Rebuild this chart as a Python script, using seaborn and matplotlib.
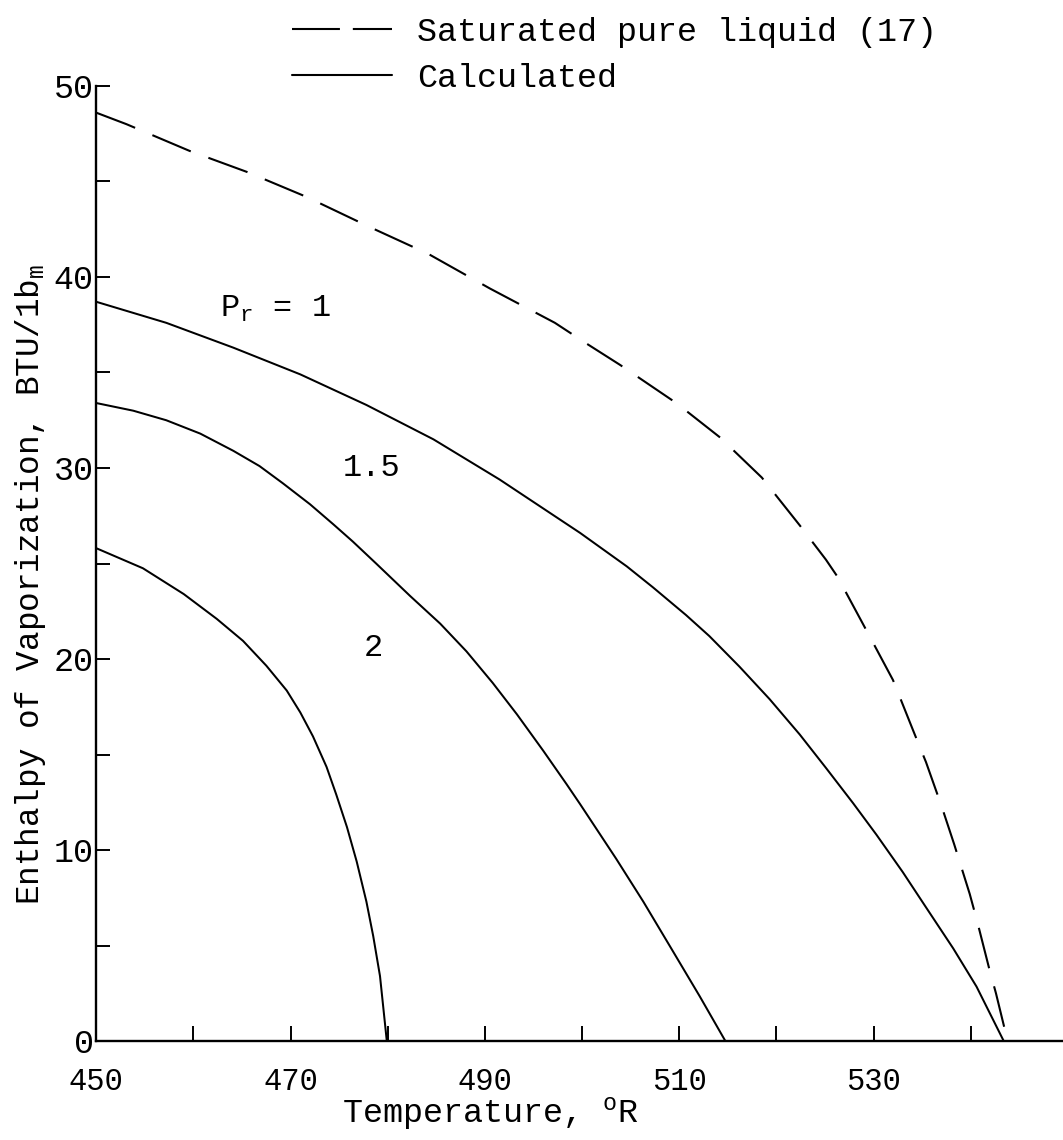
import matplotlib
matplotlib.use("Agg")
import matplotlib.pyplot as plt
from matplotlib.lines import Line2D
import seaborn as sns

# Saturated pure liquid, reference (17)
t_sat = [450.0, 453.1, 459.6, 465.5, 471.6, 478.2, 484.2, 490.5, 497.2, 500.5, 503.9,
         509.7, 514.2, 518.5, 522.4, 525.1, 526.3, 529.9, 532.0, 534.2, 535.4, 537.0,
         538.3, 539.9, 540.7, 541.9, 542.6, 543.8]
h_sat = [48.6, 48.0, 46.6, 45.5, 44.2, 42.6, 41.2, 39.4, 37.6, 36.5, 35.4,
         33.4, 31.6, 29.5, 27.0, 25.2, 24.3, 20.9, 18.9, 16.1, 14.6, 12.3,
         10.3, 7.7, 6.2, 3.8, 2.5, 0.0]

# Calculated, reduced pressure Pr = 1
t_pr1 = [450.0, 457.2, 464.1, 471.0, 477.8, 484.7, 491.5, 499.8, 504.6, 507.3,
         510.7, 513.1, 516.2, 519.3, 522.4, 525.1, 527.9, 530.3, 533.0, 535.4,
         538.2, 540.6, 543.4]
h_pr1 = [38.7, 37.6, 36.3, 34.9, 33.3, 31.5, 29.4, 26.6, 24.85, 23.75,
         22.3, 21.2, 19.6, 17.9, 16.05, 14.3, 12.45, 10.8, 8.85, 7.0,
         4.85, 2.85, 0.0]

# Calculated, Pr = 1.5
t_pr15 = [450.0, 453.8, 457.2, 460.7, 464.1, 466.8, 469.2, 472.0, 474.4, 476.4,
          478.8, 482.3, 485.4, 488.1, 490.8, 493.3, 496.0, 498.4, 499.8, 503.5,
          506.3, 509.0, 512.1, 514.75]
h_pr15 = [33.4, 33.0, 32.5, 31.8, 30.9, 30.1, 29.2, 28.1, 27.05, 26.15,
          25.0, 23.3, 21.85, 20.4, 18.75, 17.1, 15.2, 13.45, 12.4, 9.55,
          7.3, 5.0, 2.35, 0.0]

# Calculated, Pr = 2
t_pr2 = [450.0, 454.8, 459.0, 462.4, 465.1, 467.5, 469.6, 471.0, 472.3, 473.7,
         474.7, 475.8, 476.8, 477.8, 478.5, 479.2, 479.9]
h_pr2 = [25.8, 24.75, 23.4, 22.1, 20.95, 19.65, 18.35, 17.2, 15.95, 14.35,
         12.9, 11.2, 9.4, 7.3, 5.5, 3.4, 0.0]

x_ticks = [450, 460, 470, 480, 490, 500, 510, 520, 530, 540]
x_tick_labels = ["450", "", "470", "", "490", "", "510", "", "530", ""]
y_ticks = [0, 5, 10, 15, 20, 25, 30, 35, 40, 45, 50]
y_tick_labels = ["0", "", "10", "", "20", "", "30", "", "40", "", "50"]

sns.set_theme(style="white")
plt.rcParams["font.family"] = ["Liberation Mono", "DejaVu Sans Mono"]
plt.rcParams["mathtext.fontset"] = "custom"
plt.rcParams["mathtext.rm"] = "Liberation Mono"
plt.rcParams["mathtext.it"] = "Liberation Mono"
for key in ["text.color", "axes.labelcolor", "xtick.color", "ytick.color"]:
    plt.rcParams[key] = "black"

fig = plt.figure(figsize=(10.63, 11.40), dpi=100)
ax = fig.add_axes([0.0906, 0.0868, 0.9094, 0.8378])

sns.lineplot(x=t_sat, y=h_sat, ax=ax, color="black", lw=1.5, sort=False,
             estimator=None, linestyle=(0, (20, 9)))
for t, h in [(t_pr1, h_pr1), (t_pr15, h_pr15), (t_pr2, h_pr2)]:
    sns.lineplot(x=t, y=h, ax=ax, color="black", lw=1.45, sort=False, estimator=None)

ax.set_xlim(450, 549.5)
ax.set_ylim(0, 50)
ax.set_xticks(x_ticks)
ax.set_xticklabels(x_tick_labels)
ax.set_yticks(y_ticks)
ax.set_yticklabels(y_tick_labels)

for side in ["top", "right"]:
    ax.spines[side].set_visible(False)
for side in ["left", "bottom"]:
    ax.spines[side].set_color("black")
    ax.spines[side].set_linewidth(1.7)

ax.tick_params(axis="x", bottom=True, direction="in", length=11, width=1.4,
               labelsize=22, pad=19)
ax.tick_params(axis="y", left=True, direction="in", length=10, width=1.4,
               labelsize=24, pad=2)

ax.set_xlabel("Temperature, $^{\\mathregular{o}}$R", fontsize=24)
ax.xaxis.set_label_coords(0.408, -0.056)
ax.set_ylabel("Enthalpy of Vaporization, BTU/1b$_{\\mathregular{m}}$", fontsize=23.5)
ax.yaxis.set_label_coords(-0.05, 0.478)

# Curve labels
ax.text(462.7, 38.3, "P$_{\\mathregular{r}}$ = 1", fontsize=23, ha="left", va="center")
ax.text(475.4, 30.0, "1.5", fontsize=23, ha="left", va="center")
ax.text(478.5, 20.6, "2", fontsize=23, ha="center", va="center")

handles = [
    Line2D([0], [0], color="black", lw=1.5, linestyle=(0, (23, 6.2))),
    Line2D([0], [0], color="black", lw=1.5),
]
fig.legend(handles, ["Saturated pure liquid (17)", "Calculated"],
           loc="upper left", bbox_to_anchor=(0.262, 0.997), frameon=False,
           fontsize=24, handlelength=3.0, handletextpad=0.75, labelspacing=0.45,
           borderaxespad=0.0)

fig.savefig("out.png", dpi=100, facecolor="white")
